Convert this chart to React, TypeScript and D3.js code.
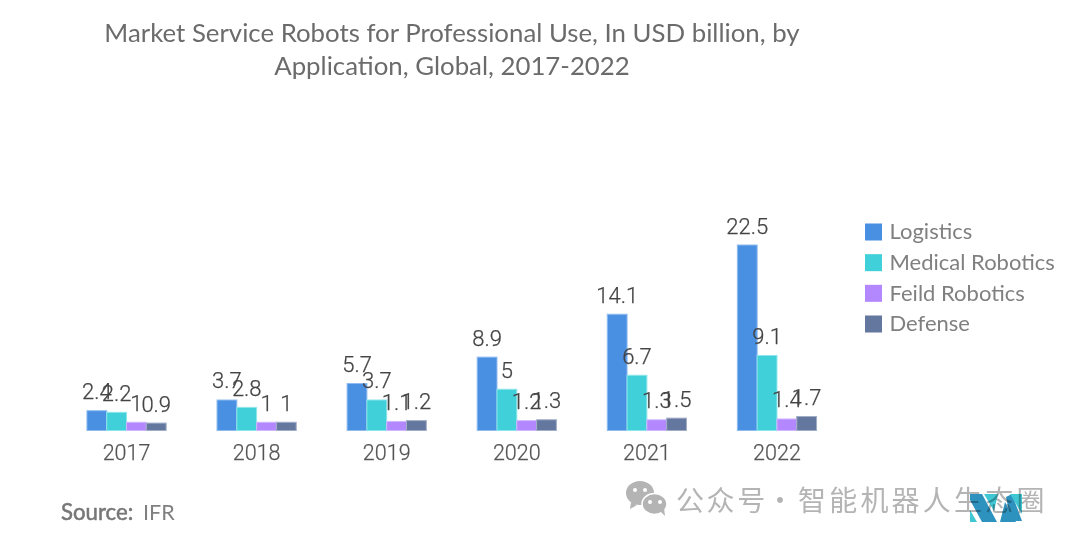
import { useEffect, useRef } from 'react';
import * as d3 from 'd3';

const years = ['2017', '2018', '2019', '2020', '2021', '2022'];
const seriesNames = ['Logistics', 'Medical Robotics', 'Feild Robotics', 'Defense'];
const logistics = [2.4, 3.7, 5.7, 8.9, 14.1, 22.5];
const medical = [2.2, 2.8, 3.7, 5, 6.7, 9.1];
const field = [1, 1, 1.1, 1.2, 1.3, 1.4];
const defense = [0.9, 1, 1.2, 1.3, 1.5, 1.7];
const seriesValues = [logistics, medical, field, defense];
const colors = ['#4a90e2', '#3fd0d9', '#b388ff', '#64779f'];
const edges = ['#8fbcf0', '#8ce5ea', '#d0b8ff', '#a2aec8'];
const titleLines = ['Market Service Robots for Professional Use, In USD billion, by', 'Application, Global, 2017-2022'];

const W = 1080;
const H = 544;

export default function App() {
  const ref = useRef<SVGSVGElement | null>(null);
  useEffect(() => {
    const svg = d3.select(ref.current!);
    svg.selectAll('*').remove();

    const x0 = d3.scaleBand<string>().domain(years).range([61.5, 842]);
    const x1 = d3.scaleBand<string>().domain(seriesNames).range([0, 79.2]);
    const y = d3.scaleLinear().domain([0, 22.5]).range([430.5, 245]);
    const groupLeft = (yr: string) => x0(yr)! + (x0.bandwidth() - 79.2) / 2;

    // title
    svg.append('g').selectAll('text').data(titleLines).enter().append('text')
      .attr('x', 452).attr('y', (_, i) => 41.5 + i * 33.5)
      .attr('text-anchor', 'middle').attr('font-family', 'Lato, sans-serif').attr('font-size', 25.8)
      .attr('fill', '#6b6b6b').text((d) => d);

    // bars and value labels
    seriesNames.forEach((name, s) => {
      const g = svg.append('g');
      g.selectAll('rect').data(seriesValues[s]).enter().append('rect')
        .attr('x', (_, i) => groupLeft(years[i]) + x1(name)!)
        .attr('y', (d) => y(d))
        .attr('width', x1.bandwidth())
        .attr('height', (d) => y(0) - y(d))
        .attr('fill', colors[s]).attr('stroke', edges[s]).attr('stroke-width', 1);
    });
    seriesNames.forEach((name, s) => {
      const g = svg.append('g');
      g.selectAll('text').data(seriesValues[s]).enter().append('text')
        .attr('x', (_, i) => groupLeft(years[i]) + x1(name)! + x1.bandwidth() / 2)
        .attr('y', (d) => y(d) - 11.5)
        .attr('text-anchor', 'middle').attr('font-family', 'Roboto, sans-serif').attr('font-weight', 300)
        .attr('font-size', 22).attr('stroke', '#444').attr('stroke-width', 0.25)
        .attr('fill', '#444').text((d) => String(d));
    });

    // x axis
    const axis = svg.append('g').attr('transform', 'translate(0,430.5)')
      .call(d3.axisBottom(x0).tickSize(0).tickPadding(13.5));
    axis.select('.domain').remove();
    axis.selectAll('text').attr('font-size', 21.5).attr('font-weight', 300).attr('fill', '#555')
      .attr('stroke', '#555').attr('stroke-width', 0.25)
      .attr('font-family', 'Roboto, sans-serif').attr('dy', '0.74em');

    // legend
    const legendY = d3.scalePoint<string>().domain(seriesNames).range([232, 324]);
    const legend = svg.append('g').selectAll('g').data(seriesNames).enter().append('g')
      .attr('transform', (d) => `translate(865,${legendY(d)})`);
    legend.append('rect').attr('x', 0).attr('y', -8.5).attr('width', 17).attr('height', 17)
      .attr('fill', (_, i) => colors[i]);
    legend.append('text').attr('x', 24.5).attr('y', 7.2).attr('font-family', 'Lato, sans-serif')
      .attr('font-size', 22).attr('fill', '#808080').text((d) => d);

    // source
    svg.append('text').attr('x', 61).attr('y', 520).attr('font-family', 'Lato, sans-serif').attr('font-size', 22.2)
      .attr('stroke', '#777').attr('stroke-width', 0.5).attr('fill', '#777').text('Source:');
    svg.append('text').attr('x', 143).attr('y', 520).attr('font-family', 'Lato, sans-serif').attr('font-size', 21.5)
      .attr('fill', '#808080').text('IFR');

    // wechat watermark
    const wm = svg.append('g').attr('fill', '#b4b4b4');
    wm.append('ellipse').attr('cx', 640).attr('cy', 493).attr('rx', 14).attr('ry', 12);
    wm.append('path').attr('d', 'M631 502l-1 7 7-4z');
    wm.append('ellipse').attr('cx', 654.5).attr('cy', 504).attr('rx', 12.5).attr('ry', 10.5).attr('stroke', '#fff').attr('stroke-width', 1.5);
    wm.append('path').attr('d', 'M660 511l5 5-1-8z');
    wm.append('g').attr('fill', '#fff').selectAll('circle')
      .data([[635, 490], [645, 490], [650, 502], [660, 502]]).enter().append('circle')
      .attr('cx', (d) => d[0]).attr('cy', (d) => d[1]).attr('r', 2);
    const wmText = svg.append('g').attr('font-family', '"Noto Sans CJK SC", sans-serif')
      .attr('font-size', 28).attr('fill', '#b4b4b4');
    wmText.append('text').attr('x', 676).attr('y', 511).attr('letter-spacing', 2.6).text('公众号');
    wmText.append('text').attr('x', 766).attr('y', 511).text('·');
    wmText.append('text').attr('x', 798).attr('y', 511).attr('letter-spacing', 3.2).text('智能机器人生态圈');

    // logo over the watermark
    const logo = svg.append('g').style('mix-blend-mode', 'multiply');
    logo.append('path').attr('d', 'M970 494h12l15 28h-15l-12-22z').attr('fill', '#2e92bf');
    logo.append('path').attr('d', 'M1000 522l5-20 11 20z').attr('fill', '#2e92bf');
    logo.append('path').attr('d', 'M1006 497l6-3 10 27h-11z').attr('fill', '#2e92bf');
    logo.append('path').attr('d', 'M970 510l7 12h-7z').attr('fill', '#3fc8d4');
    logo.append('path').attr('d', 'M984 494h14l-4 17z').attr('fill', '#3fc8d4');
    logo.append('path').attr('d', 'M1010 494h12v20z').attr('fill', '#3fc8d4');
  }, []);
  return <svg ref={ref} width={W} height={H} viewBox={`0 0 ${W} ${H}`} style={{ position: 'absolute', left: 0, top: 0, background: '#fff' }} />;
}
